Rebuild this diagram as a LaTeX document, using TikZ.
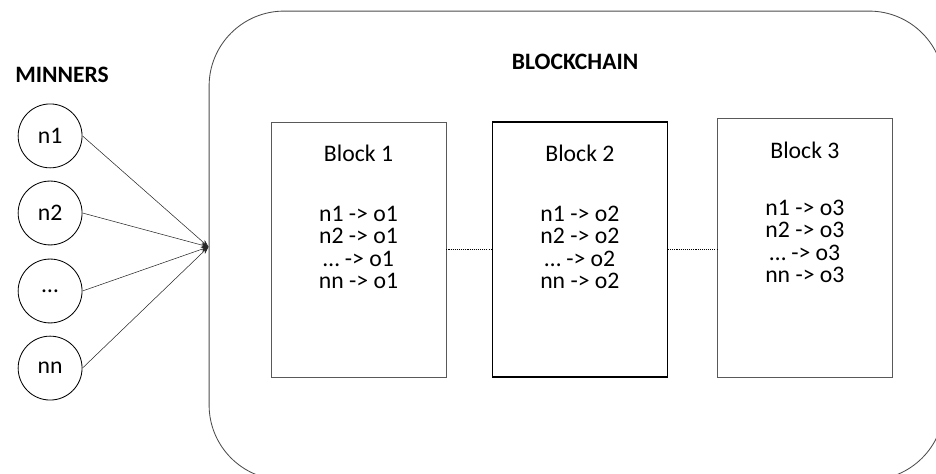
\documentclass[tikz,border=0pt]{standalone}
\usepackage{fontspec}
\setmainfont{Carlito}
\usetikzlibrary{arrows.meta}

\begin{document}
\begin{tikzpicture}[
    every node/.style={font=\fontsize{22.5}{21.4}\selectfont},
    miner/.style={draw, circle, line width=0.8pt, minimum size=2.13cm, inner sep=0pt},
    blockbox/.style={draw=black!65, line width=0.8pt, minimum width=5.83cm, minimum height=8.5cm},
    feed/.style={-{Stealth[length=7pt,width=5pt]}, line width=0.5pt, black!85},
    link/.style={line width=1pt, dash pattern=on 1pt off 1pt},
    label/.style={font=\fontsize{22.3}{22}\selectfont\bfseries}
  ]
                \useasboundingbox (0,0) rectangle (31.2,15.8);
                \draw[black!70, line width=0.8pt, rounded corners=2.5cm] (6.97,-0.2) rectangle (31.47,15.43);

                \node[label] (minners) at (2.07,13.3) {MINNERS};
                \node[label] (chain) at (19.17,13.73) {BLOCKCHAIN};

                \node[miner] (n1) at (1.67,11.27) {n1};
                \node[miner] (n2) at (1.67,8.7) {n2};
                \node[miner] (n3) at (1.67,6.1) {…};
                \node[miner] (nn) at (1.67,3.53) {nn};

                \coordinate (join) at (6.95,7.57);
                \foreach \m in {n1,n2,n3,nn}
                    \draw[feed] (\m.east) -- (join);

                \node[blockbox] (b1) at (11.95,7.48) {};
                \node[blockbox, draw=black, line width=1.3pt] (b2) at (19.33,7.48) {};
                \node[blockbox, minimum height=8.63cm] (b3) at (26.83,7.55) {};

                \node[] (t1) at (11.95,10.68) {Block 1};
                \node[] (t2) at (19.33,10.68) {Block 2};
                \node[] (t3) at (26.83,10.78) {Block 3};

                \node[align=center] (r1) at (11.95,7.55) {n1 -> o1\\n2 -> o1\\… -> o1\\nn -> o1};
                \node[align=center] (r2) at (19.33,7.55) {n1 -> o2\\n2 -> o2\\… -> o2\\nn -> o2};
                \node[align=center] (r3) at (26.83,7.75) {n1 -> o3\\n2 -> o3\\… -> o3\\nn -> o3};

                \draw[link] (b1.east) -- (b2.west);
                \draw[link] (b2.east) -- (b3.west |- b2.east);
\end{tikzpicture}
\end{document}
